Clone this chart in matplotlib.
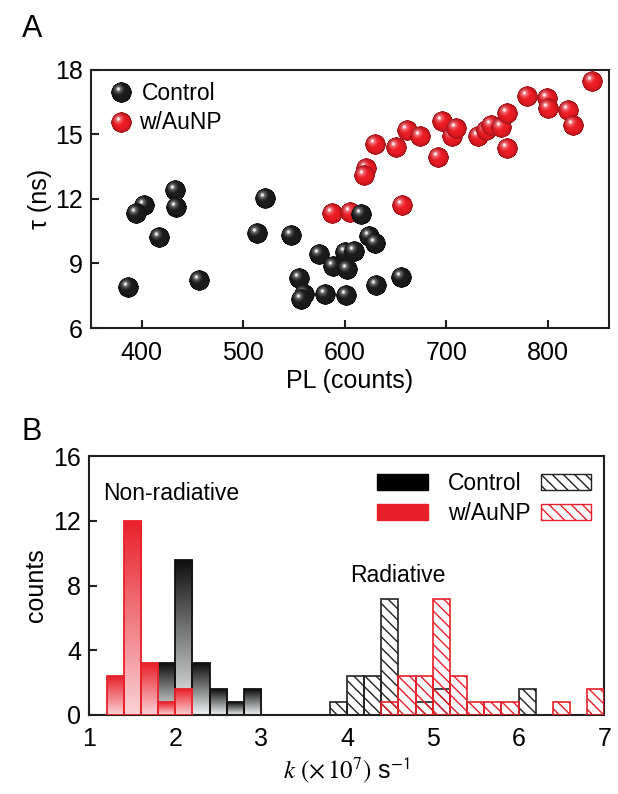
import numpy as np
import matplotlib
matplotlib.use('Agg')
import matplotlib.pyplot as plt
from matplotlib.offsetbox import OffsetImage, AnnotationBbox
from matplotlib.patches import Patch

plt.rcParams['font.family'] = ['Liberation Sans', 'DejaVu Sans']
plt.rcParams['mathtext.fontset'] = 'stix'
plt.rcParams['hatch.linewidth'] = 1.0

# ---------------- data ----------------
ctrl_pl = [387, 402, 395, 417, 433, 434, 457, 522, 514, 547, 575, 555, 560,
           557, 581, 589, 600, 601, 616, 624, 630, 609, 602, 631, 656]
ctrl_tau = [7.85, 11.7, 11.3, 10.2, 12.4, 11.6, 8.2, 12.0, 10.4, 10.3, 9.4, 8.3,
            7.55, 7.3, 7.55, 8.85, 9.5, 7.5, 11.25, 10.25, 9.9, 9.55, 8.7, 7.95, 8.35]
aunp_pl = [588, 605, 621, 619, 630, 651, 661, 674, 657, 692, 696, 706, 710,
           731, 739, 744, 754, 760, 760, 780, 799, 800, 820, 825, 844]
aunp_tau = [11.3, 11.35, 13.4, 13.1, 14.5, 14.4, 15.15, 14.9, 11.7, 13.9, 15.6,
            14.9, 15.25, 14.9, 15.15, 15.4, 15.3, 15.95, 14.35, 16.75, 16.65,
            16.2, 16.1, 15.4, 17.45]

bin_width = 0.2
nr_bins = [1.2, 1.4, 1.6, 1.8, 2.0, 2.2, 2.4, 2.6, 2.8]
nr_ctrl = [0, 0, 0, 3.2, 9.6, 3.2, 1.6, 0.8, 1.6]
nr_aunp = [2.4, 12.0, 3.2, 0.8, 1.6, 0, 0, 0, 0]
rad_bins = [3.8, 4.0, 4.2, 4.4, 4.6, 4.8, 5.0, 5.2, 5.4, 5.6, 5.8, 6.0, 6.2, 6.4, 6.6, 6.8]
rad_ctrl = [0.8, 2.4, 2.4, 7.2, 0, 0.8, 1.6, 0, 0, 0, 0, 1.6, 0, 0, 0, 0]
rad_aunp = [0, 0, 0, 0.8, 2.4, 2.4, 7.2, 2.4, 0.8, 0.8, 0.8, 0, 0, 0.8, 0, 1.6]

labels = ['Control', 'w/AuNP']

# ---------------- style ----------------
SPINE = '#231f20'
RED = '#e8202a'
FS_TICK = 18
FS_LAB = 18
FS_TXT = 16.5

fig = plt.figure(figsize=(6.18, 7.94), dpi=100)
axA = fig.add_axes([0.1472, 0.5869, 0.838, 0.325])
axB = fig.add_axes([0.1448, 0.0995, 0.8333, 0.326])


def style(ax):
    for s in ax.spines.values():
        s.set_linewidth(1.5)
        s.set_color(SPINE)
    ax.tick_params(direction='in', length=6, width=1.5, color=SPINE,
                   labelsize=FS_TICK, top=False, right=False)
    ax.tick_params(axis='x', pad=9)
    ax.tick_params(axis='y', pad=6)


def sphere(base, hl, n=80):
    y, x = np.mgrid[-1:1:n * 1j, -1:1:n * 1j]
    r = np.hypot(x, y)
    dh = np.hypot(x + 0.30, y + 0.34)
    w = np.clip(1 - dh / 0.68, 0, 1) ** 1.6
    core = np.clip(1 - dh / 0.2, 0, 1) ** 0.7
    base = np.array(base)
    hl = np.array(hl)
    rgb = base[None, None, :] * (1 - w[..., None]) + hl[None, None, :] * w[..., None]
    rgb = rgb * (1 - 0.35 * np.clip(r, 0, 1)[..., None] ** 4)
    rgb = rgb * (1 - core[..., None]) + core[..., None]
    alpha = np.clip((1 - r) * n / 2, 0, 1)
    return np.dstack([np.clip(rgb, 0, 1), alpha])


ball_black = sphere((0.11, 0.11, 0.11), (0.78, 0.78, 0.78))
ball_red = sphere((0.93, 0.11, 0.14), (1.0, 0.76, 0.79))
ZOOM = 20.5 * 0.72 / 80


def balls(ax, xs, ys, img, z0, coords='data'):
    for i, (x, y) in enumerate(zip(xs, ys)):
        ab = AnnotationBbox(OffsetImage(img, zoom=ZOOM), (x, y), xycoords=coords,
                            frameon=False, pad=0, box_alignment=(0.5, 0.5))
        ab.set_zorder(z0 + i * 0.01)
        ax.add_artist(ab)


# ---------------- panel A ----------------
style(axA)
axA.set_xlim(350, 860)
axA.set_ylim(6, 18)
axA.set_xticks([400, 500, 600, 700, 800])
axA.set_yticks([6, 9, 12, 15, 18])
balls(axA, aunp_pl, aunp_tau, ball_red, 3)
balls(axA, ctrl_pl, ctrl_tau, ball_black, 4)
axA.set_xlabel('PL (counts)', fontsize=FS_LAB, labelpad=3)
axA.set_ylabel('τ (ns)', fontsize=FS_LAB, labelpad=2)

# legend A
balls(axA, [0.059], [0.910], ball_black, 6, coords='axes fraction')
balls(axA, [0.059], [0.796], ball_red, 6, coords='axes fraction')
axA.text(0.098, 0.910, labels[0], transform=axA.transAxes, fontsize=FS_TXT,
         va='center', ha='left')
axA.text(0.093, 0.796, labels[1], transform=axA.transAxes, fontsize=FS_TXT,
         va='center', ha='left')

# ---------------- panel B ----------------
style(axB)


def grad_bars(ax, lefts, heights, top, bottom, edge, z):
    top = np.array(matplotlib.colors.to_rgb(top))
    bottom = np.array(matplotlib.colors.to_rgb(bottom))
    sel = [(l, h) for l, h in zip(lefts, heights) if h > 0]
    bars = ax.bar([l for l, _ in sel], [h for _, h in sel], width=bin_width,
                  align='edge', facecolor='none', edgecolor=edge,
                  linewidth=1.3, zorder=z + 0.5)
    t = np.linspace(0, 1, 128)[:, None, None]
    arr = top[None, None, :] * (1 - t) + bottom[None, None, :] * t
    for rect in bars:
        x0 = rect.get_x()
        im = ax.imshow(arr, extent=[x0, x0 + rect.get_width(), 0, rect.get_height()],
                       aspect='auto', origin='upper', zorder=z,
                       interpolation='bilinear')
        im.set_clip_path(rect)
    return bars


def hatch_bars(ax, lefts, heights, edge, z):
    sel = [(l, h) for l, h in zip(lefts, heights) if h > 0]
    return ax.bar([l for l, _ in sel], [h for _, h in sel], width=bin_width,
                  align='edge', facecolor='none', edgecolor=edge,
                  hatch='\\\\\\', linewidth=1.2, zorder=z)


grad_bars(axB, nr_bins, nr_ctrl, '#0d0d0d', '#f3f5f6', '#111111', 2)
grad_bars(axB, nr_bins, nr_aunp, RED, '#fad3d6', RED, 3)
hatch_bars(axB, rad_bins, rad_ctrl, '#222222', 2)
hatch_bars(axB, rad_bins, rad_aunp, RED, 3)

axB.set_xlim(1, 7)
axB.set_ylim(0, 16)
axB.set_xticks([1, 2, 3, 4, 5, 6, 7])
axB.set_yticks([0, 4, 8, 12, 16])
axB.set_ylabel('counts', fontsize=FS_LAB, labelpad=4)
axB.set_xlabel(r'$k\ (\times\,10^{7})$ s$^{\mathsf{-1}}$', fontsize=FS_LAB, labelpad=3)

axB.text(1.16, 13.7, 'Non-radiative', fontsize=FS_TXT, va='center', ha='left')
axB.text(4.04, 8.6, 'Radiative', fontsize=FS_TXT, va='center', ha='left')

handles = [Patch(facecolor='black', edgecolor='black'),
           Patch(facecolor=RED, edgecolor=RED),
           Patch(facecolor='none', edgecolor='#222222', hatch='\\\\\\'),
           Patch(facecolor='none', edgecolor=RED, hatch='\\\\\\')]
axB.legend(handles, [labels[0], labels[1], '', ''], ncol=2, frameon=False,
           fontsize=FS_TXT, loc='upper right', bbox_to_anchor=(1.046, 1.0),
           handlelength=2.2, handleheight=0.72, handletextpad=0.9,
           columnspacing=0.45, labelspacing=0.3, borderaxespad=0.3)

fig.text(22 / 618, 1 - 37 / 794, 'A', fontsize=22, va='baseline', ha='left')
fig.text(21 / 618, 1 - 440 / 794, 'B', fontsize=22, va='baseline', ha='left')

fig.savefig('out.png', dpi=100)
